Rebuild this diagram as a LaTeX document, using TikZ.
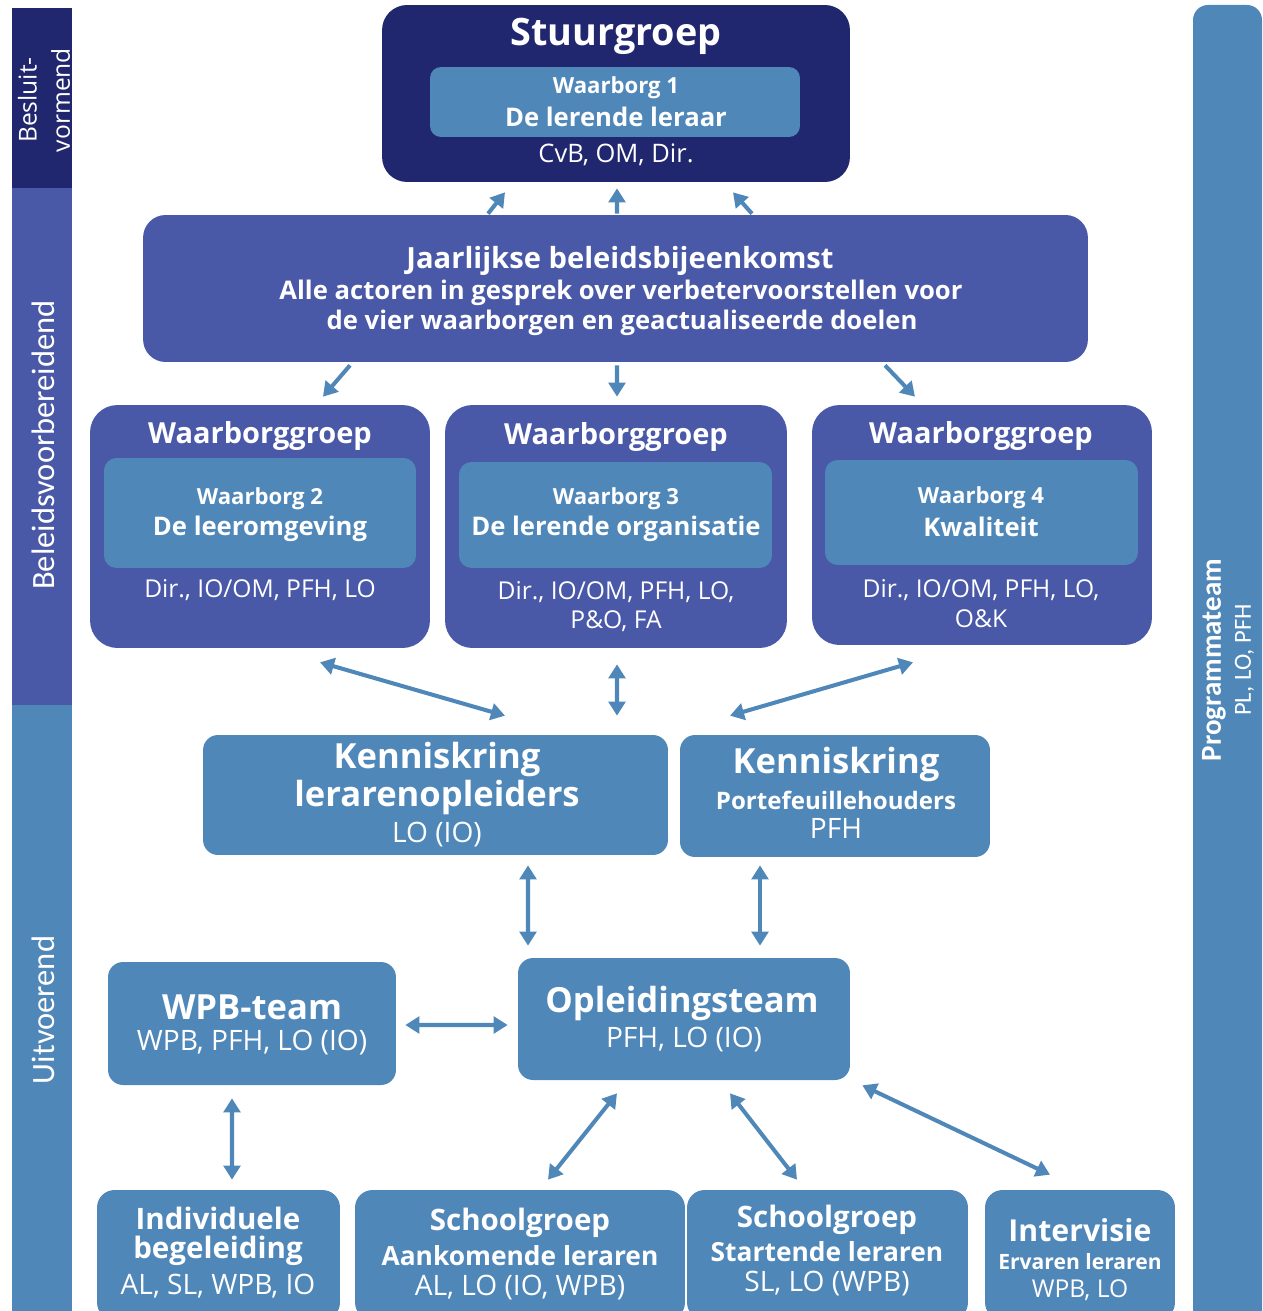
\documentclass[tikz,border=0pt]{standalone}
\usepackage{fontspec}
\setmainfont{Open Sans}
\newfontfamily\condfont{Carlito}
\usetikzlibrary{arrows.meta}
\definecolor{navy}{RGB}{33,39,110}
\definecolor{indigo}{RGB}{74,88,168}
\definecolor{steel}{RGB}{80,135,185}
\newcommand{\fsz}[1]{\fontsize{#1}{#1}\selectfont}

\begin{document}
\begin{tikzpicture}[x=0.02cm, y=-0.02cm,
    txt/.style={text=white, inner sep=0pt, anchor=center},
    big/.style={txt, font=\bfseries\fsz{19.7}},
    mid/.style={txt, font=\bfseries\fsz{16.5}},
    sml/.style={txt, font=\bfseries\fsz{12.6}},
    sub/.style={txt, font=\bfseries\fsz{14.6}},
    who/.style={txt, font=\fsz{14}},
    whobig/.style={txt, font=\fsz{16}},
    arr/.style={steel, line width=2.3pt, -{Triangle[length=8pt,width=9.5pt]}},
    darr/.style={arr, {Triangle[length=8pt,width=9.5pt]}-{Triangle[length=8pt,width=9.5pt]}}]
    \useasboundingbox (0,0) rectangle (1263,1311);

    % bands left and right
    \fill[navy] (12,8) rectangle (72,188);
    \fill[indigo] (12,188) rectangle (72,705);
    \fill[steel] (12,705) rectangle (72,1311);
    \fill[steel, rounded corners=0.3cm] (1193,5) rectangle (1262,1340);
    \node[txt, rotate=90, align=center, font=\fontsize{14}{19}\selectfont] (besluit) at (44,100) {Besluit-\\vormend};
    \node[txt, rotate=90, font=\condfont\fsz{18.5}] (beleid) at (43,445) {Beleidsvoorbereidend};
    \node[txt, rotate=90, font=\condfont\fsz{18.5}] (uitvoer) at (43,1010) {Uitvoerend};
    \node[txt, rotate=90, align=center, font=\condfont\fontsize{16.5}{17}\selectfont] (prog) at (1228,660) {\textbf{Programmateam}\\{\fsz{14}PL, LO, PFH}};

    % stuurgroep
    \node[fill=navy, rounded corners=0.5cm, minimum width=9.36cm, minimum height=3.54cm] (stuur) at (616,93.5) {};
    \node[fill=steel, rounded corners=0.22cm, minimum width=7.4cm, minimum height=1.4cm] (wb1) at (615,102) {};
    \node[big, font=\bfseries\fsz{21.5}] (stuur-t) at (616,36) {Stuurgroep};
    \node[sml] (wb1-a) at (616,88) {Waarborg 1};
    \node[sub] (wb1-b) at (616,117) {De lerende leraar};
    \node[who, font=\fsz{14.5}] (stuur-w) at (616,155) {CvB, OM, Dir.};

    % beleidsbijeenkomst
    \node[fill=indigo, rounded corners=0.45cm, minimum width=18.9cm, minimum height=2.94cm] (jaar) at (615.5,288.5) {};
    \node[txt, font=\bfseries\fsz{16.6}] (jaar-a) at (620,261) {Jaarlijkse beleidsbijeenkomst};
    \node[txt, font=\bfseries\fsz{14.6}] (jaar-b) at (621,293) {Alle actoren in gesprek over verbetervoorstellen voor};
    \node[txt, font=\bfseries\fsz{14.6}] (jaar-c) at (622,323) {de vier waarborgen en geactualiseerde doelen};

    % waarborggroepen
    \node[fill=indigo, rounded corners=0.55cm, minimum width=6.8cm, minimum height=4.86cm] (wg1) at (260,526.5) {};
    \node[fill=steel, rounded corners=0.25cm, minimum width=6.24cm, minimum height=2.2cm] (wb2) at (260,513) {};
    \node[mid] (wg1-t) at (260,436) {Waarborggroep};
    \node[sml] (wb2-a) at (260,499) {Waarborg 2};
    \node[sub] (wb2-b) at (260,529) {De leeromgeving};
    \node[who] (wg1-w) at (260,590) {Dir., IO/OM, PFH, LO};

    \node[fill=indigo, rounded corners=0.55cm, minimum width=6.84cm, minimum height=4.86cm] (wg2) at (616,526.5) {};
    \node[fill=steel, rounded corners=0.25cm, minimum width=6.26cm, minimum height=2.12cm] (wb3) at (615.5,515) {};
    \node[mid] (wg2-t) at (616,437) {Waarborggroep};
    \node[sml] (wb3-a) at (616,499) {Waarborg 3};
    \node[sub] (wb3-b) at (616,529) {De lerende organisatie};
    \node[who] (wg2-w) at (616,592) {Dir., IO/OM, PFH, LO,};
    \node[who] (wg2-v) at (616,621) {P\&O, FA};

    \node[fill=indigo, rounded corners=0.55cm, minimum width=6.8cm, minimum height=4.8cm] (wg3) at (982,525) {};
    \node[fill=steel, rounded corners=0.25cm, minimum width=6.26cm, minimum height=2.1cm] (wb4) at (981.5,512.5) {};
    \node[mid] (wg3-t) at (981,436) {Waarborggroep};
    \node[sml] (wb4-a) at (981,498) {Waarborg 4};
    \node[sub] (wb4-b) at (981,527) {Kwaliteit};
    \node[who] (wg3-w) at (981,590) {Dir., IO/OM, PFH, LO,};
    \node[who] (wg3-v) at (981,619) {O\&K};

    % kenniskringen
    \node[fill=steel, rounded corners=0.3cm, minimum width=9.3cm, minimum height=2.4cm] (kk1) at (435.5,795) {};
    \node[big] (kk1-a) at (437,760) {Kenniskring};
    \node[big] (kk1-b) at (437,798) {lerarenopleiders};
    \node[whobig] (kk1-w) at (437,835) {LO (IO)};

    \node[fill=steel, rounded corners=0.3cm, minimum width=6.2cm, minimum height=2.44cm] (kk2) at (835,796) {};
    \node[big] (kk2-a) at (836,765) {Kenniskring};
    \node[sml, font=\bfseries\fsz{13.7}] (kk2-b) at (836,800) {Portefeuillehouders};
    \node[whobig] (kk2-w) at (836,828) {PFH};

    % teams
    \node[fill=steel, rounded corners=0.3cm, minimum width=5.76cm, minimum height=2.46cm] (wpb) at (252,1023.5) {};
    \node[big] (wpb-a) at (252,1007) {WPB-team};
    \node[whobig] (wpb-w) at (252,1043) {WPB, PFH, LO (IO)};

    \node[fill=steel, rounded corners=0.3cm, minimum width=6.64cm, minimum height=2.44cm] (opl) at (684,1019) {};
    \node[big] (opl-a) at (682,1003) {Opleidingsteam};
    \node[whobig] (opl-w) at (684,1040) {PFH, LO (IO)};

    % onderste rij
    \node[fill=steel, rounded corners=0.35cm, minimum width=4.86cm, minimum height=2.6cm] (ind) at (218.5,1255) {};
    \node[mid, font=\bfseries\fsz{16.8}] (ind-a) at (218,1218) {Individuele};
    \node[mid, font=\bfseries\fsz{16.8}] (ind-b) at (218,1251) {begeleiding};
    \node[whobig] (ind-w) at (218,1286) {AL, SL, WPB, IO};

    \node[fill=steel, rounded corners=0.35cm, minimum width=6.6cm, minimum height=2.6cm] (sga) at (520,1255) {};
    \node[mid, font=\bfseries\fsz{16.8}] (sga-a) at (520,1223) {Schoolgroep};
    \node[sub, font=\bfseries\fsz{15}] (sga-b) at (520,1256) {Aankomende leraren};
    \node[whobig] (sga-w) at (520,1288) {AL, LO (IO, WPB)};

    \node[fill=steel, rounded corners=0.35cm, minimum width=5.62cm, minimum height=2.6cm] (sgs) at (827.5,1255) {};
    \node[mid, font=\bfseries\fsz{16.8}] (sgs-a) at (827,1220) {Schoolgroep};
    \node[sub, font=\bfseries\fsz{15}] (sgs-b) at (827,1252) {Startende leraren};
    \node[whobig] (sgs-w) at (827,1284) {SL, LO (WPB)};

    \node[fill=steel, rounded corners=0.35cm, minimum width=3.8cm, minimum height=2.6cm] (intv) at (1080,1255) {};
    \node[mid, font=\bfseries\fsz{17.2}] (intv-a) at (1080,1230) {Intervisie};
    \node[sml, font=\bfseries\fsz{12}] (intv-b) at (1080,1262) {Ervaren leraren};
    \node[who] (intv-w) at (1080,1290) {WPB, LO};

    % pijlen
    \draw[arr] ([shift={(-127.5,-1)}]jaar.north) -- ([shift={(-111,10)}]stuur.south);
    \draw[arr] ([shift={(1.5,-1)}]jaar.north) -- ([shift={(1,6)}]stuur.south);
    \draw[arr] ([shift={(136.5,-1)}]jaar.north) -- ([shift={(117,10)}]stuur.south);
    \draw[arr] ([shift={(-265.5,3)}]jaar.south) -- ([shift={(63,-8)}]wg1.north);
    \draw[arr] ([shift={(1.5,3)}]jaar.south) -- ([shift={(1,-8)}]wg2.north);
    \draw[arr] ([shift={(269.5,3)}]jaar.south) -- ([shift={(-67,-8)}]wg3.north);
    \draw[darr] ([shift={(60,14)}]wg1.south) -- ([shift={(69.5,-19)}]kk1.north);
    \draw[darr] ([shift={(1,16)}]wg2.south) -- ([shift={(181.5,-19)}]kk1.north);
    \draw[darr] ([shift={(-69,17)}]wg3.south) -- ([shift={(-105,-19)}]kk2.north);
    \draw[darr] ([shift={(92.5,10)}]kk1.south) -- ([shift={(-156,-12)}]opl.north);
    \draw[darr] ([shift={(-75,8)}]kk2.south) -- ([shift={(76,-12)}]opl.north);
    \draw[darr] ([shift={(9,1.5)}]wpb.east) -- ([shift={(-10,6)}]opl.west);
    \draw[darr] ([shift={(-20,13)}]wpb.south) -- ([shift={(13.5,-10)}]ind.north);
    \draw[darr] ([shift={(-67,13)}]opl.south) -- ([shift={(28,-10)}]sga.north);
    \draw[darr] ([shift={(46,13)}]opl.south) -- ([shift={(-30.5,-10)}]sgs.north);
    \draw[darr] ([shift={(12,5)}]opl.south east) -- ([shift={(-30,-15)}]intv.north);
\end{tikzpicture}
\end{document}
